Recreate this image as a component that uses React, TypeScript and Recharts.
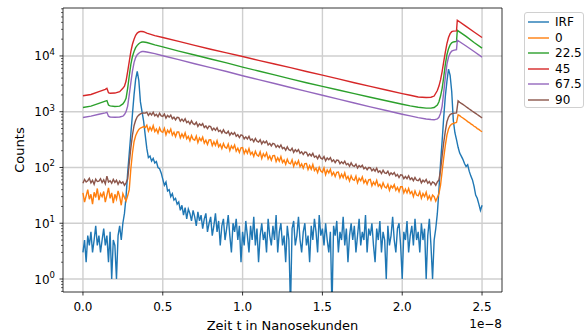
import React from "react";
import {
  LineChart,
  Line,
  XAxis,
  YAxis,
  CartesianGrid,
  Label,
  ReferenceLine,
} from "recharts";

// time axis in units of 1e-8 s, noisy series sampled every 0.01
const TIME = Array.from({ length: 251 }, (_, i) => i / 100);

const IRF = [
  3, 5, 2, 6, 4, 7, 3, 5, 9, 4,
  6, 3, 5, 8, 4, 6, 2, 7, 1, 5,
  4, 1, 6, 9, 5, 10, 15, 30, 80, 180,
  400, 900, 2000, 3800, 5300, 3600, 1500, 1000, 680, 380,
  220, 150, 160, 130, 145, 120, 128, 100, 95, 80,
  62, 48, 55, 38, 40, 30, 34, 26, 28, 22,
  24, 17, 21, 14, 19, 12, 18, 15, 11, 17,
  13, 9, 16, 11, 14, 8, 12, 15, 7, 10,
  13, 6, 9, 15, 7, 11, 4, 9, 12, 5,
  8, 14, 6, 3, 10, 7, 12, 5, 9, 2,
  7, 4, 11, 6, 3, 9, 5, 13, 4, 8,
  2, 6, 10, 5, 7, 3, 12, 6, 4, 9,
  5, 14, 3, 7, 10, 4, 6, 2, 9, 5,
  0.3, 8, 11, 4, 6, 13, 5, 3, 7, 10,
  4, 6, 2, 9, 5, 12, 7, 3, 14, 6,
  8, 4, 10, 5, 3, 7, 0.3, 9, 6, 11,
  3, 7, 5, 13, 4, 8, 2, 6, 10, 5,
  9, 3, 6, 12, 4, 7, 5, 14, 3, 8,
  6, 10, 4, 2, 8, 5, 11, 3, 7, 5,
  1, 9, 4, 6, 13, 5, 3, 8, 10, 4,
  1, 7, 5, 11, 3, 6, 9, 4, 12, 5,
  7, 3, 10, 5, 8, 1, 6, 12, 4, 1,
  5, 8, 15, 40, 120, 300, 800, 1900, 3500, 5800,
  4500, 2300, 700, 420, 315, 230, 181, 160, 140, 118,
  104, 112, 85, 70, 60, 46, 32, 28, 22, 17,
  21,
];

const DEG0 = [
  35, 24, 31, 40, 27, 33, 22, 36, 29, 42,
  26, 34, 30, 37, 24, 32, 43, 28, 35, 23,
  33, 27, 38, 30, 21, 34, 29, 25, 31, 40,
  95, 180, 290, 370, 430, 480, 510, 525, 540, 520,
  572, 450, 528, 461, 561, 441, 489, 412, 513, 441,
  426, 505, 386, 467, 419, 486, 379, 428, 358, 433,
  435, 340, 398, 346, 419, 327, 361, 302, 375, 321,
  308, 365, 279, 338, 303, 350, 274, 309, 258, 312,
  314, 246, 288, 249, 302, 236, 261, 218, 270, 231,
  222, 263, 201, 243, 218, 253, 197, 222, 186, 225,
  227, 177, 208, 180, 218, 171, 188, 158, 195, 167,
  160, 190, 145, 176, 157, 183, 142, 161, 135, 163,
  164, 128, 150, 130, 157, 123, 136, 114, 140, 120,
  116, 137, 105, 126, 113, 132, 103, 116, 97, 117,
  118, 92, 108, 93, 113, 88, 97, 81, 101, 86,
  82, 98, 74, 90, 80, 93, 73, 82, 69, 82,
  83, 65, 76, 66, 80, 62, 69, 57, 71, 61,
  59, 70, 53, 64, 58, 68, 53, 60, 50, 60,
  61, 47, 55, 49, 59, 46, 50, 43, 53, 45,
  43, 50, 39, 47, 43, 49, 39, 44, 37, 45,
  45, 35, 41, 35, 42, 34, 37, 30, 38, 32,
  31, 37, 28, 34, 30, 36, 27, 31, 26, 32,
  30, 25, 29, 34, 48, 85, 150, 250, 380, 490,
  560, 600, 615, 632, 640, 880, 850, 805, 772, 735,
  702, 665, 640, 605, 582, 548, 530, 498, 482, 455,
  437,
];

const DEG90 = [
  52, 61, 55, 58, 64, 53, 59, 50, 62, 56,
  57, 63, 54, 60, 51, 70, 55, 58, 52, 61,
  54, 59, 50, 57, 52, 55, 48, 53, 62, 120,
  224, 380, 560, 700, 810, 870, 915, 940, 950, 945,
  983, 861, 942, 872, 980, 847, 900, 811, 937, 844,
  825, 909, 769, 859, 801, 869, 745, 798, 713, 795,
  782, 678, 735, 673, 749, 640, 674, 600, 686, 610,
  590, 647, 546, 607, 565, 610, 522, 556, 495, 550,
  539, 467, 507, 464, 517, 442, 465, 414, 474, 421,
  408, 448, 378, 421, 391, 424, 362, 387, 344, 383,
  375, 326, 354, 324, 361, 309, 325, 290, 331, 296,
  286, 314, 265, 296, 275, 298, 254, 271, 243, 270,
  264, 230, 249, 228, 254, 218, 229, 204, 234, 208,
  201, 222, 187, 208, 193, 210, 180, 191, 171, 189,
  186, 161, 175, 161, 179, 153, 161, 144, 165, 147,
  142, 157, 132, 148, 138, 150, 128, 137, 122, 136,
  134, 117, 126, 117, 130, 112, 118, 105, 121, 108,
  105, 115, 98, 108, 102, 110, 95, 101, 91, 100,
  99, 87, 94, 86, 97, 82, 87, 78, 89, 80,
  78, 86, 73, 80, 75, 81, 70, 75, 66, 74,
  73, 63, 69, 63, 71, 61, 65, 58, 66, 59,
  58, 63, 53, 59, 55, 61, 52, 56, 49, 55,
  53, 48, 55, 60, 89, 160, 282, 450, 660, 800,
  890, 920, 935, 945, 955, 1560, 1480, 1410, 1350, 1290,
  1230, 1175, 1120, 1070, 1020, 975, 933, 890, 851, 812,
  776,
];

// smooth (high count) series, own sample times
const SMOOTH_T = [
  0, 0.05, 0.1, 0.14, 0.15, 0.16, 0.17, 0.2, 0.23, 0.25,
  0.26, 0.27, 0.28, 0.29, 0.3, 0.31, 0.32, 0.33, 0.34, 0.35,
  0.36, 0.37, 0.38, 0.4, 0.45, 0.5, 0.6, 0.7, 0.8, 0.9,
  1.0, 1.1, 1.2, 1.3, 1.4, 1.5, 1.6, 1.7, 1.8, 1.9,
  2.0, 2.05, 2.1, 2.15, 2.18, 2.2, 2.22, 2.23, 2.24, 2.25,
  2.26, 2.27, 2.28, 2.29, 2.3, 2.31, 2.32, 2.34, 2.345, 2.4,
  2.45, 2.5,
];

const DEG22 = [
  1190, 1260, 1410, 1550, 1580, 1320, 1270, 1240, 1260, 1380,
  1510, 1740, 2630, 4370, 7080, 9770, 12000, 14100, 15500, 16600,
  17400, 17800, 17800, 17400, 15800, 14500, 12200, 10400, 8810, 7500,
  6310, 5370, 4570, 3890, 3310, 2850, 2450, 2110, 1820, 1570,
  1360, 1270, 1200, 1160, 1160, 1190, 1320, 1510, 1910, 2630,
  4170, 7080, 10500, 13500, 15800, 17200, 17800, 18200, 28800, 22400,
  17400, 13800,
];

const DEG45 = [
  1930, 2040, 2290, 2510, 2630, 2190, 2140, 2160, 2290, 2630,
  2880, 3550, 5250, 7940, 12000, 16200, 19950, 23400, 25700, 26900,
  27500, 27500, 27200, 25700, 23200, 21400, 18200, 15500, 13200, 11350,
  9770, 8320, 7160, 6170, 5250, 4520, 3890, 3310, 2850, 2450,
  2110, 1970, 1840, 1800, 1820, 1910, 2400, 2880, 3720, 5250,
  7940, 11750, 16600, 21400, 25100, 27200, 27900, 28200, 43600, 33900,
  26900, 21400,
];

const DEG67 = [
  787, 832, 900, 955, 977, 832, 804, 794, 804, 832,
  891, 1000, 1260, 2000, 3310, 5370, 7590, 9330, 10500, 11200,
  11750, 12000, 12000, 11750, 11000, 10100, 8610, 7240, 6170, 5250,
  4420, 3760, 3200, 2720, 2320, 1970, 1680, 1430, 1220, 1050,
  902, 841, 785, 741, 724, 716, 741, 794, 933, 1260,
  2240, 4170, 7080, 9550, 11200, 12200, 12600, 12900, 19100, 15100,
  12000, 9550,
];

const X_TICKS = [0, 0.5, 1, 1.5, 2, 2.5];
const Y_MAJOR = [1, 10, 100, 1000, 10000];
const Y_MINOR = [
  0.6, 0.7, 0.8, 0.9,
  2, 3, 4, 5, 6, 7, 8, 9,
  20, 30, 40, 50, 60, 70, 80, 90,
  200, 300, 400, 500, 600, 700, 800, 900,
  2000, 3000, 4000, 5000, 6000, 7000, 8000, 9000,
  20000, 30000, 40000, 50000, 60000, 70000,
];
const X_DOMAIN = [-0.125, 2.625];
const Y_DOMAIN = [0.585, 72400];

const FONT = "DejaVu Sans";

const SERIES = [
  { name: "IRF", color: "#1f77b4", t: TIME, v: IRF },
  { name: "0", color: "#ff7f0e", t: TIME, v: DEG0 },
  { name: "22.5", color: "#2ca02c", t: SMOOTH_T, v: DEG22 },
  { name: "45", color: "#d62728", t: SMOOTH_T, v: DEG45 },
  { name: "67.5", color: "#9467bd", t: SMOOTH_T, v: DEG67 },
  { name: "90", color: "#8c564b", t: TIME, v: DEG90 },
];

const XTick = ({ x, y, payload }: any) => (
  <g>
    <line x1={x} x2={x} y1={y} y2={y + 3.5} stroke="#000" strokeWidth={0.8} />
    <text x={x} y={y + 19} textAnchor="middle" fontSize={12} fontFamily={FONT} fill="#000">
      {payload.value.toFixed(1)}
    </text>
  </g>
);

const YTick = ({ x, y, payload }: any) => {
  const v = payload.value;
  const major = Y_MAJOR.includes(v);
  if (!major) {
    return <line x1={x} x2={x - 2} y1={y} y2={y} stroke="#000" strokeWidth={0.6} />;
  }
  const exp = Math.round(Math.log10(v));
  return (
    <g>
      <line x1={x} x2={x - 3.5} y1={y} y2={y} stroke="#000" strokeWidth={0.8} />
      <text x={x - 8} y={y + 4.5} textAnchor="end" fontSize={12} fontFamily={FONT} fill="#000">
        10
        <tspan dy={-5.5} fontSize={8.5}>{exp}</tspan>
      </text>
    </g>
  );
};

function LegendBox() {
  return (
    <div
      style={{
        position: "absolute",
        left: 524,
        top: 12,
        width: 60,
        height: 96,
        boxSizing: "border-box",
        border: "1px solid #d0d0d0",
        borderRadius: 3,
        background: "rgba(255,255,255,0.8)",
        fontFamily: FONT,
        fontSize: 12,
      }}
    >
      {SERIES.map((s, i) => (
        <div
          key={s.name}
          style={{ position: "absolute", left: 3, top: 2 + i * 15.5, height: 14, display: "flex", alignItems: "center" }}
        >
          <svg width={21} height={14} style={{ marginRight: 6 }}>
            <line x1={0} x2={21} y1={7} y2={7} stroke={s.color} strokeWidth={1.4} />
          </svg>
          <span style={{ lineHeight: "14px" }}>{s.name}</span>
        </div>
      ))}
    </div>
  );
}

export default function App() {
  return (
    <div style={{ position: "absolute", left: 0, top: 0, width: 586, height: 335, background: "#fff" }}>
      <LineChart width={586} height={335} margin={{ top: 8, right: 84, bottom: 0, left: 0 }}>
        <CartesianGrid
          horizontalValues={Y_MAJOR}
          verticalValues={X_TICKS}
          stroke="#cfcfcf"
          strokeWidth={1.4}
        />
        <XAxis
          dataKey="t"
          type="number"
          domain={X_DOMAIN}
          ticks={X_TICKS}
          allowDataOverflow
          height={43}
          tickSize={0}
          tickMargin={0}
          tickLine={false}
          tick={<XTick />}
          axisLine={{ stroke: "#000", strokeWidth: 0.8 }}
        >
          <Label
            content={({ viewBox }: any) => (
              <g>
                <text
                  x={viewBox.x + viewBox.width / 2}
                  y={330}
                  textAnchor="middle"
                  fontSize={13}
                  fontFamily={FONT}
                  fill="#000"
                >
                  Zeit t in Nanosekunden
                </text>
                <text
                  x={viewBox.x + viewBox.width}
                  y={328}
                  textAnchor="end"
                  fontSize={12}
                  fontFamily={FONT}
                  fill="#000"
                >
                  1e−8
                </text>
              </g>
            )}
          />
        </XAxis>
        <YAxis
          type="number"
          scale="log"
          domain={Y_DOMAIN}
          ticks={[...Y_MAJOR, ...Y_MINOR]}
          allowDataOverflow
          width={63}
          tickSize={0}
          tickMargin={0}
          tickLine={false}
          tick={<YTick />}
          interval={0}
          axisLine={{ stroke: "#000", strokeWidth: 0.8 }}
        >
          <Label
            content={() => (
              <text
                x={24}
                y={150}
                textAnchor="middle"
                fontSize={13}
                fontFamily={FONT}
                fill="#000"
                transform="rotate(-90 24 150)"
              >
                Counts
              </text>
            )}
          />
        </YAxis>
        {SERIES.map((s) => (
          <Line
            key={s.name}
            name={s.name}
            data={s.t.map((t, i) => ({ t, v: s.v[i] }))}
            dataKey="v"
            type="linear"
            stroke={s.color}
            strokeWidth={1.4}
            dot={false}
            isAnimationActive={false}
          />
        ))}
        <ReferenceLine x={X_DOMAIN[1]} stroke="#000" strokeWidth={0.8} ifOverflow="visible" />
        <ReferenceLine y={Y_DOMAIN[1]} stroke="#000" strokeWidth={0.8} ifOverflow="visible" />
      </LineChart>
      <LegendBox />
    </div>
  );
}
